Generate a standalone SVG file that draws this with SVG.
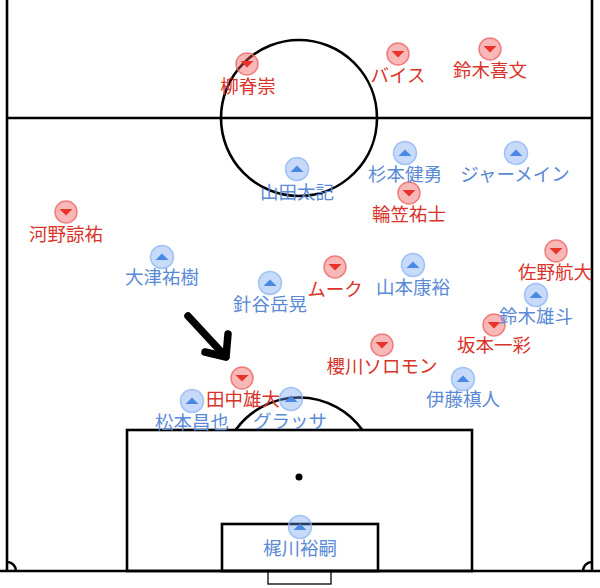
<svg xmlns="http://www.w3.org/2000/svg" width="600" height="588" viewBox="0 0 600 588">
<style>
.f{fill:none;stroke:#000;stroke-width:2.6}
.rc{fill:#ee5555;fill-opacity:0.42;stroke:#ee6666;stroke-width:1.5;stroke-opacity:0.8}
.bc{fill:#6b9ff0;fill-opacity:0.38;stroke:#8fb6f2;stroke-width:1.5;stroke-opacity:0.8}
.rt{fill:#e8332a}
.bt{fill:#4a88e6}
text{font-family:"Noto Sans CJK JP","Noto Sans",sans-serif;font-size:18.5px;text-anchor:middle}
.rl{fill:#d9342b}
.bl{fill:#5a8ad6}
</style>
<defs>
<g id="red"><circle class="rc" r="11"/><path class="rt" d="M-6.5,-3 L6.5,-3 L0,3.5 Z"/></g>
<g id="blue"><circle class="bc" r="11.5"/><path class="bt" d="M-6.5,3 L6.5,3 L0,-3.5 Z"/></g>
</defs>
<rect width="600" height="588" fill="#fff"/>
<g id="field">
<line class="f" x1="7" y1="0" x2="7" y2="571"/>
<line class="f" x1="592" y1="0" x2="592" y2="571"/>
<line class="f" x1="7" y1="118" x2="592" y2="118"/>
<line class="f" x1="0" y1="571" x2="600" y2="571"/>
<circle class="f" cx="299" cy="118" r="78"/>
<rect class="f" x="127" y="430" width="345" height="141"/>
<rect class="f" x="222" y="524" width="156" height="47"/>
<rect x="268" y="571" width="63" height="13" fill="none" stroke="#000" stroke-width="1.3"/>
<path class="f" d="M235.6,430 A78,78 0 0 1 362.4,430"/>
<circle cx="299" cy="477" r="3.5" fill="#000"/>
<path class="f" d="M7,562 A9,9 0 0 1 16,571"/>
<path class="f" d="M583,571 A9,9 0 0 1 592,562"/>
</g>
<g id="connectors">
<path d="M188,316 L226,357 M205,352 L226,357 L228,334" fill="none" stroke="#000" stroke-width="7.5" stroke-linecap="round" stroke-linejoin="round"/>
</g>
<g id="p-yanagi"><use href="#red" x="247" y="64"/><text class="rl" x="248" y="93">柳脊崇</text></g>
<g id="p-bais"><use href="#red" x="398" y="54"/><text class="rl" x="398" y="82">バイス</text></g>
<g id="p-suzukiy"><use href="#red" x="490" y="49"/><text class="rl" x="490" y="77">鈴木喜文</text></g>
<g id="p-kono"><use href="#red" x="66" y="212"/><text class="rl" x="66" y="241">河野諒祐</text></g>
<g id="p-wagasa"><use href="#red" x="409" y="193"/><text class="rl" x="409" y="221">輪笠祐士</text></g>
<g id="p-mook"><use href="#red" x="335" y="267"/><text class="rl" x="335" y="296">ムーク</text></g>
<g id="p-sano"><use href="#red" x="556" y="251"/><text class="rl" x="555" y="279">佐野航大</text></g>
<g id="p-sakamoto"><use href="#red" x="494" y="325"/><text class="rl" x="494" y="352">坂本一彩</text></g>
<g id="p-sakuragawa"><use href="#red" x="382" y="345"/><text class="rl" x="382" y="373">櫻川ソロモン</text></g>
<g id="p-tanaka"><use href="#red" x="242" y="378"/><text class="rl" x="243" y="406">田中雄大</text></g>
<g id="p-yamada"><use href="#blue" x="297" y="169"/><text class="bl" x="297" y="199">山田太記</text></g>
<g id="p-sugimoto"><use href="#blue" x="405" y="153"/><text class="bl" x="405" y="181">杉本健勇</text></g>
<g id="p-jermaine"><use href="#blue" x="516" y="153"/><text class="bl" x="515" y="181">ジャーメイン</text></g>
<g id="p-otsu"><use href="#blue" x="162" y="257"/><text class="bl" x="162" y="284">大津祐樹</text></g>
<g id="p-haritani"><use href="#blue" x="270" y="283"/><text class="bl" x="270" y="311">針谷岳晃</text></g>
<g id="p-yamamoto"><use href="#blue" x="413" y="265"/><text class="bl" x="413" y="294">山本康裕</text></g>
<g id="p-suzukiyu"><use href="#blue" x="536" y="295"/><text class="bl" x="536" y="323">鈴木雄斗</text></g>
<g id="p-ito"><use href="#blue" x="463" y="379"/><text class="bl" x="463" y="406">伊藤槙人</text></g>
<g id="p-matsumoto"><use href="#blue" x="192" y="401"/><text class="bl" x="192" y="429">松本昌也</text></g>
<g id="p-grassa"><use href="#blue" x="291" y="399"/><text class="bl" x="290" y="428">グラッサ</text></g>
<g id="p-kajikawa"><use href="#blue" x="300" y="527"/><text class="bl" x="300" y="555">梶川裕嗣</text></g>
</svg>
